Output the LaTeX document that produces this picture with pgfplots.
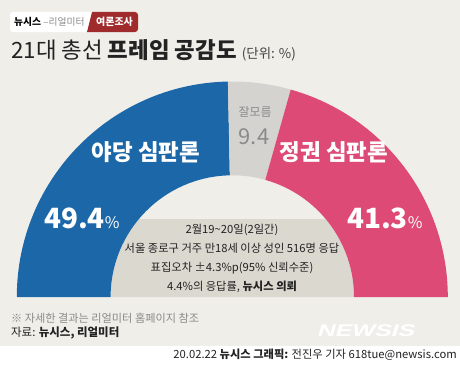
\documentclass[border=0pt]{standalone}
\usepackage{fontspec}
\setmainfont{Noto Sans CJK KR}
\newfontfamily\wmfont{Liberation Sans}
\usepackage{pgfplots}
\usepackage{pgfplotstable}
\pgfplotsset{compat=1.18}
\definecolor{bg}{HTML}{EFEEE9}
\definecolor{blueS}{HTML}{1C67A8}
\definecolor{pinkS}{HTML}{DC4A75}
\definecolor{grayS}{HTML}{D5D3D0}
\definecolor{boxS}{HTML}{DBD8D0}
\definecolor{redtag}{HTML}{A02B2C}
\definecolor{txt}{HTML}{222222}
\definecolor{midgray}{HTML}{8A8A8A}
\definecolor{dgray}{HTML}{444444}

\pgfplotstableread{
seg value
opposition 49.4
unknown 9.4
ruling 41.3
}\survey

\begin{document}
\begin{tikzpicture}
\pgfplotstablegetelem{0}{value}\of\survey \let\va\pgfplotsretval
\pgfplotstablegetelem{1}{value}\of\survey \let\vb\pgfplotsretval
\pgfplotstablegetelem{2}{value}\of\survey \let\vc\pgfplotsretval
\pgfmathsetmacro\tot{\va+\vb+\vc}
\pgfmathsetmacro\aA{180-180*\va/\tot}
\pgfmathsetmacro\aB{\aA-180*\vb/\tot}
\begin{axis}[x=1bp,y=1bp,xmin=0,xmax=460,ymin=0,ymax=364,hide axis,clip=false]
% background
\fill[white] (axis cs:0,0) rectangle (axis cs:460,364);
\fill[bg] (axis cs:0,18) rectangle (axis cs:460,364);
% inner info box (part of the inner circle below y=145)
\fill[boxS] (axis cs:232.3,67) ++(180:121.7bp) arc[start angle=180,end angle=140.14,radius=121.7bp] -- (axis cs:325.73,145) arc[start angle=39.86,end angle=0,radius=121.7bp] -- cycle;
% sectors
\fill[blueS] (axis cs:232.3,67) ++(180:215.5bp) arc[start angle=180,end angle=\aA,radius=215.5bp] -- ++(\aA:-93.8bp) arc[start angle=\aA,end angle=180,radius=121.7bp] -- cycle;
\fill[grayS] (axis cs:232.3,67) ++(\aA:215.5bp) arc[start angle=\aA,end angle=\aB,radius=215.5bp] -- ++(\aB:-93.8bp) arc[start angle=\aB,end angle=\aA,radius=121.7bp] -- cycle;
\fill[pinkS] (axis cs:232.3,67) ++(\aB:215.5bp) arc[start angle=\aB,end angle=0,radius=215.5bp] -- ++(0:-93.8bp) arc[start angle=0,end angle=\aB,radius=121.7bp] -- cycle;
% tag
\fill[white,rounded corners=3bp] (axis cs:10,332) rectangle (axis cs:100,352);
\fill[redtag] (axis cs:92,352) [rounded corners=3bp] -- (axis cs:138,352) -- (axis cs:138,332) [sharp corners] -- (axis cs:87,332) -- cycle;
\node[anchor=west,inner sep=0] at (axis cs:14,342) {\fontsize{9.8}{10}\selectfont\textbf{뉴시스} \color{midgray}–리얼미터};
\node[inner sep=0,text=white] at (axis cs:114.5,342) {\fontsize{10}{10}\selectfont\textbf{여론조사}};
% title
\node[anchor=west,inner sep=0,text=txt] at (axis cs:11,314) {\fontsize{22.5}{24}\selectfont 21대 총선 \textbf{프레임 공감도} {\fontsize{13.5}{14}\selectfont\color{dgray}(단위: \%)}};
% segment labels
\node[text=white,inner sep=0] at (axis cs:146,211.5) {\fontsize{22.5}{24}\selectfont\textbf{야당 심판론}};
\node[text=white,inner sep=0] at (axis cs:334,211.5) {\fontsize{22.5}{24}\selectfont\textbf{정권 심판론}};
\node[text=midgray,inner sep=0] at (axis cs:255,252) {\fontsize{12}{14}\selectfont 잘모름};
\node[text=midgray,inner sep=0] at (axis cs:254,227) {\fontsize{22}{24}\selectfont \vb};
\node[text=white,anchor=base west,inner sep=0] at (axis cs:44,136) {\fontsize{28}{30}\selectfont\textbf{\va}\fontsize{16}{20}\selectfont\%};
\node[text=white,anchor=base west,inner sep=0] at (axis cs:347,136) {\fontsize{28}{30}\selectfont\textbf{\vc}\fontsize{16}{20}\selectfont\%};
% info text
\node[text=txt,align=center,inner sep=0,font={\fontsize{11.3}{19}\selectfont}] at (axis cs:232,105.5) {2월19\textasciitilde20일(2일간)\\서울 종로구 거주 만18세 이상 성인 516명 응답\\표집오차 ±4.3\%p(95\% 신뢰수준)\\4.4\%의 응답률, \textbf{뉴시스 의뢰}};
% footnotes
\node[anchor=west,text=midgray,inner sep=0] at (axis cs:11,46) {\fontsize{11.2}{12}\selectfont ※ 자세한 결과는 리얼미터 홈페이지 참조};
\node[anchor=west,text=txt,inner sep=0] at (axis cs:11,31) {\fontsize{11.5}{12}\selectfont 자료: \textbf{뉴시스, 리얼미터}};
\node[text=white,inner sep=0,xscale=1.45,xslant=0.2] at (axis cs:367,33) {\wmfont\fontsize{17}{18}\selectfont\bfseries NEWSIS};
\node[anchor=east,text=txt,inner sep=0] at (axis cs:457,9) {\fontsize{11.3}{12}\selectfont 20.02.22 \textbf{뉴시스 그래픽:} 전진우 기자 618tue@newsis.com};
\end{axis}
\end{tikzpicture}
\end{document}
